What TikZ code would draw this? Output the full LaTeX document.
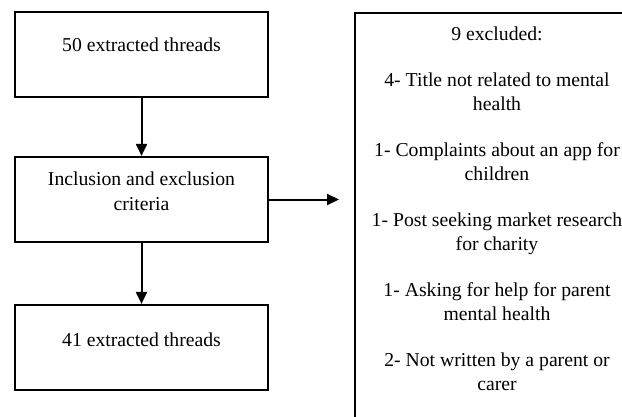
\documentclass[tikz,border=0pt]{standalone}
\usepackage{fontspec}
\setmainfont{Liberation Serif}
\usetikzlibrary{arrows.meta}
\begin{document}
\begin{tikzpicture}[x=1pt,y=-1pt,
  box/.style={draw=black, line width=2.2pt, minimum width=253pt, inner sep=0pt},
  txt/.style={align=center, inner sep=0pt, font=\fontsize{19.7}{24.5}\selectfont},
  arr/.style={line width=2pt, -{Triangle[length=12pt,width=11pt]}}]
\useasboundingbox (0,0) rectangle (622,416);
\begin{scope}
\clip (0,0) rectangle (622,416);
% left boxes
\node[box, minimum height=85pt] (b1) at (141.5,54.5) {};
\node[txt] (t1) at ([yshift=10pt]b1.center) {50 extracted threads};
\node[box, minimum height=85pt] (b2) at (141.5,199.5) {};
\node[txt] (t2) at ([yshift=8pt]b2.center) {Inclusion and exclusion\\criteria};
\node[box, minimum height=85pt] (b3) at (141.5,347.5) {};
\node[txt] (t3) at ([yshift=8pt]b3.center) {41 extracted threads};
% right box
\node[draw=black, line width=2.2pt, minimum width=286pt, minimum height=430pt, inner sep=0pt, anchor=north west] (ex) at (354,12) {};
\node[txt, anchor=north, font=\fontsize{19.7}{24}\selectfont] (ext) at (497,27) {9 excluded:\\[22pt]
4- Title not related to mental\\health\\[22pt]
1- Complaints about an app for\\children\\[22pt]
1- Post seeking market research\\for charity\\[22pt]
1- Asking for help for parent\\mental health\\[22pt]
2- Not written by a parent or\\carer};
% connectors
\draw[arr] (b1.south) -- (b2.north);
\draw[arr] (b2.south) -- (b3.north);
\coordinate (aend) at ([xshift=-15pt]b2.east -| ex.west);
\draw[arr] (b2.east) -- (aend);
\end{scope}
\end{tikzpicture}
\end{document}
